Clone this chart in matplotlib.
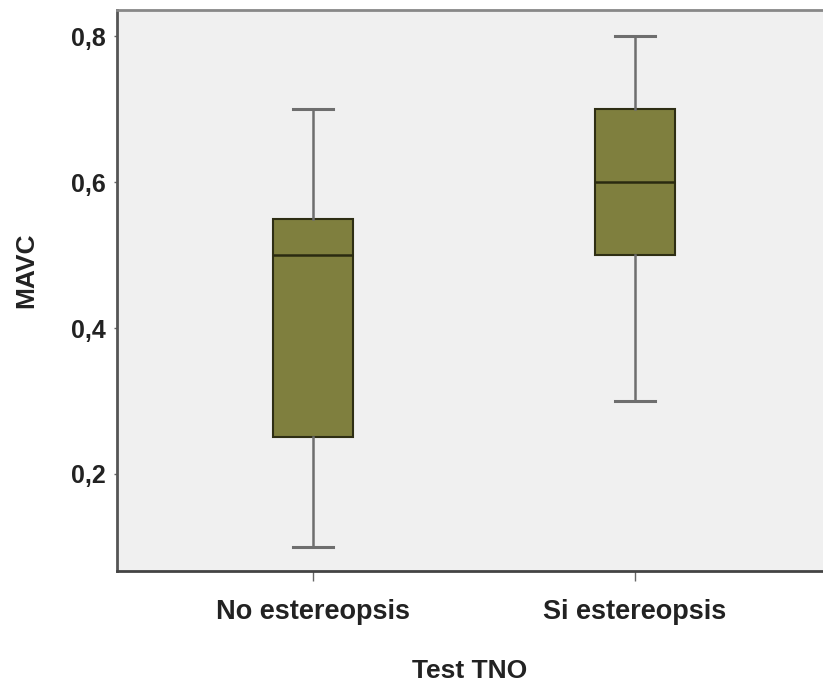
import matplotlib.pyplot as plt
import matplotlib.ticker as mticker

plt.rcParams['font.family'] = ['Liberation Sans', 'DejaVu Sans']

# Box plot summary values (MAVC by Test TNO group)
groups = ["No estereopsis", "Si estereopsis"]
whisker_low = [0.10, 0.30]
q1 = [0.25, 0.50]
median = [0.50, 0.60]
q3 = [0.55, 0.70]
whisker_high = [0.70, 0.80]
y_ticks = [0.2, 0.4, 0.6, 0.8]

stats = []
for i, g in enumerate(groups):
    stats.append({
        "label": g,
        "whislo": whisker_low[i],
        "q1": q1[i],
        "med": median[i],
        "q3": q3[i],
        "whishi": whisker_high[i],
        "fliers": [],
    })

fig = plt.figure(figsize=(8.23, 6.91), dpi=100)
ax = fig.add_axes([0.1422, 0.1737, 0.8578, 0.8118])
ax.set_facecolor("#f0f0f0")

ax.bxp(
    stats,
    positions=[1, 2],
    widths=0.25,
    patch_artist=True,
    showfliers=False,
    boxprops=dict(facecolor="#7f7f3e", edgecolor="#2e2e14", linewidth=1.5),
    medianprops=dict(color="#2a2a10", linewidth=1.8),
    whiskerprops=dict(color="#6e6e6e", linewidth=1.8),
    capprops=dict(color="#6e6e6e", linewidth=2.2),
    capwidths=0.125,
)

ax.set_xlim(0.391, 2.584)
ax.set_ylim(0.067, 0.836)
ax.set_yticks(y_ticks)
ax.yaxis.set_major_formatter(mticker.FuncFormatter(lambda v, p: f"{v:.1f}".replace(".", ",")))
ax.set_xticks([1, 2])
ax.set_xticklabels(groups)

for lbl in ax.get_yticklabels():
    lbl.set_fontsize(18)
    lbl.set_fontweight("bold")
    lbl.set_color("#222222")
for lbl in ax.get_xticklabels():
    lbl.set_fontsize(19.5)
    lbl.set_fontweight("bold")
    lbl.set_color("#222222")

ax.tick_params(axis="y", length=2, width=1, color="#666666", pad=6)
ax.tick_params(axis="x", length=7, width=1, color="#666666", pad=13)

ax.set_ylabel("MAVC", fontsize=19, fontweight="bold", color="#222222", va="center")
ax.yaxis.set_label_coords(-0.129, 0.5365)
ax.set_xlabel("Test TNO", fontsize=19, fontweight="bold", color="#222222", labelpad=25)

ax.spines["right"].set_visible(False)
ax.spines["left"].set_color("#555555")
ax.spines["left"].set_linewidth(2)
ax.spines["bottom"].set_color("#444444")
ax.spines["bottom"].set_linewidth(2)
ax.spines["top"].set_color("#888888")
ax.spines["top"].set_linewidth(2)

plt.savefig("out.png", dpi=100)
plt.close()
